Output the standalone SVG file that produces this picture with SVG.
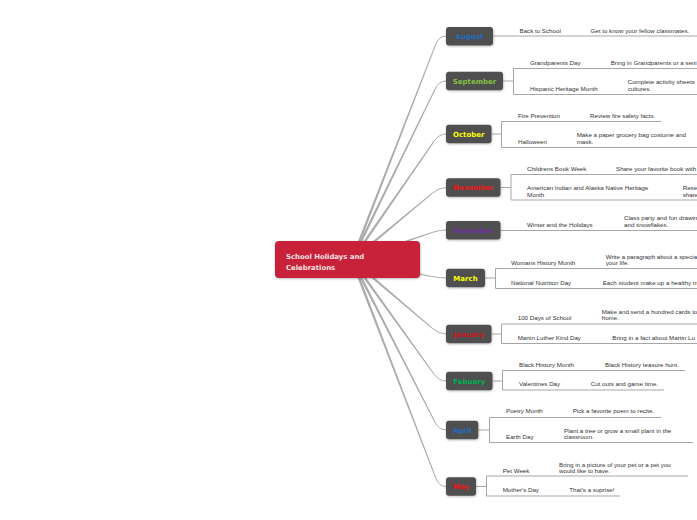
<svg xmlns="http://www.w3.org/2000/svg" width="697" height="520" viewBox="0 0 697 520">
<defs>
<filter id="sh" x="-20%" y="-30%" width="140%" height="170%">
<feDropShadow dx="0.4" dy="0.8" stdDeviation="0.9" flood-color="#000" flood-opacity="0.3"/>
</filter>
<style>
.br{fill:#ababab;stroke:none}
.bc{fill:none;stroke:#ababab;stroke-width:1}
.ln{fill:none;stroke:#a6a6a6;stroke-width:1}
.mn{fill:#4f4f4f;filter:url(#sh)}
.mt{font-family:"DejaVu Sans",Verdana,sans-serif;font-weight:bold;font-size:7px;text-anchor:middle}
.lt{font-family:"Liberation Sans",Arial,sans-serif;font-size:6.2px;fill:#333}
.ct{font-family:"DejaVu Sans",Verdana,sans-serif;font-weight:bold;font-size:6.9px;fill:#f6e2e4}
</style>
</defs>
<rect width="697" height="520" fill="#ffffff"/>
<g id="connectors">
<polygon class="br" points="353.21,260.47 436.21,44.6 435.19,44.2 350.79,259.53"/>
<path class="bc" d="M435.7,44.4 Q439,36 446,36"/>
<polygon class="br" points="353.17,260.57 435.59,89.34 434.61,88.86 350.83,259.43"/>
<path class="bc" d="M435.1,89.1 Q439,81 446,81"/>
<polygon class="br" points="353.07,260.74 434.35,141.71 433.45,141.09 350.93,259.26"/>
<path class="bc" d="M433.9,141.4 Q439,134 446,134"/>
<polygon class="br" points="352.83,261 432.45,193.72 431.75,192.88 351.17,259"/>
<path class="bc" d="M432.1,193.3 Q439,187.5 446,187.5"/>
<polygon class="br" points="352.42,261.23 430.68,233.42 430.32,232.38 351.58,258.77"/>
<path class="bc" d="M430.5,232.9 Q439,230 446,230"/>
<polygon class="br" points="351.74,261.27 430.09,276.74 430.31,275.66 352.26,258.73"/>
<path class="bc" d="M430.2,276.2 Q439,278 446,278"/>
<polygon class="br" points="351.16,260.99 431.74,328.62 432.46,327.78 352.84,259.01"/>
<path class="bc" d="M432.1,328.2 Q439,334 446,334"/>
<polygon class="br" points="350.94,260.76 433.25,374.02 434.15,373.38 353.06,259.24"/>
<path class="bc" d="M433.7,373.7 Q439,381 446,381"/>
<polygon class="br" points="350.84,260.59 434.41,422.25 435.39,421.75 353.16,259.41"/>
<path class="bc" d="M434.9,422 Q439,430 446,430"/>
<polygon class="br" points="350.79,260.47 435.29,478.3 436.31,477.9 353.21,259.53"/>
<path class="bc" d="M435.8,478.1 Q439,486.5 446,486.5"/>
<!-- leaf connectors -->
<path class="ln" d="M493,36 H697"/>
<path class="ln" d="M503,81 H513.5 M513.5,68.5 V94.5 M513.5,68.5 H697 M513.5,94.5 H697"/>
<path class="ln" d="M491.5,134 H501.5 M501.5,121.5 V147.5 M501.5,121.5 H661 M501.5,147.5 H697"/>
<path class="ln" d="M500.5,187.5 H511 M511,174.5 V200 M511,174.5 H697 M511,200 H697"/>
<path class="ln" d="M500.5,230.5 H697"/>
<path class="ln" d="M485,278 H495.5 M495.5,268.5 V288.5 M495.5,268.5 H697 M495.5,288.5 H697"/>
<path class="ln" d="M491.5,334 H501.5 M501.5,324 V343.5 M501.5,324 H697 M501.5,343.5 H697"/>
<path class="ln" d="M492.5,381 H502.5 M502.5,370.5 V390 M502.5,370.5 H685 M502.5,390 H664"/>
<path class="ln" d="M478.3,430 H489.5 M489.5,417.5 V442.5 M489.5,417.5 H661 M489.5,442.5 H693"/>
<path class="ln" d="M476,486.5 H486.5 M486.5,476 V496 M486.5,476 H688 M486.5,496 H620"/>
</g>
<g id="center">
<rect x="275" y="241" width="145" height="37" rx="4" fill="#c8203a" filter="url(#sh)"/>
<text class="ct" x="286" y="259.3">School Holidays and</text>
<text class="ct" x="286" y="270.3">Celebrations</text>
</g>
<g id="august">
<rect class="mn" x="446" y="27" width="47" height="18.5" rx="3"/>
<text class="mt" x="469.5" y="38.8" fill="#1f6dc2">August</text>
<text class="lt" x="519.5" y="33.2">Back to School</text>
<text class="lt" x="590.5" y="33.2">Get to know your fellow classmates.</text>
</g>
<g id="september">
<rect class="mn" x="446" y="71.8" width="57" height="18.5" rx="3"/>
<text class="mt" x="474.5" y="83.6" fill="#84c341">September</text>
<text class="lt" x="530" y="64.9">Grandparents Day</text>
<text class="lt" x="610.7" y="64.9">Bring in Grandparents or a seni</text>
<text class="lt" x="530" y="90.9">Hispanic Heritage Month</text>
<text class="lt" x="627.7" y="83.9">Complete activity sheets</text>
<text class="lt" x="627.7" y="91.1">cultures.</text>
</g>
<g id="october">
<rect class="mn" x="446" y="124.8" width="45.5" height="18.5" rx="3"/>
<text class="mt" x="468.75" y="136.6" fill="#ffff00">October</text>
<text class="lt" x="518" y="118.2">Fire Prevention</text>
<text class="lt" x="590" y="118.2">Review fire safety facts.</text>
<text class="lt" x="518" y="144.2">Halloween</text>
<text class="lt" x="576.7" y="137.2">Make a paper grocery bag costume and</text>
<text class="lt" x="576.7" y="144.2">mask.</text>
</g>
<g id="november">
<rect class="mn" x="446" y="178.3" width="54.5" height="18.5" rx="3"/>
<text class="mt" x="473.25" y="190.1" fill="#f01414">November</text>
<text class="lt" x="527" y="171.2">Childrens Book Week</text>
<text class="lt" x="616" y="171.2">Share your favorite book with</text>
<text class="lt" x="527" y="190.2">American Indian and Alaska Native Heritage</text>
<text class="lt" x="527" y="197.2">Month</text>
<text class="lt" x="682.7" y="190.2">Rese</text>
<text class="lt" x="682.7" y="197.2">share</text>
</g>
<g id="december">
<rect class="mn" x="446" y="221" width="54.5" height="18.5" rx="3"/>
<text class="mt" x="473.25" y="232.8" fill="#7030a0">December</text>
<text class="lt" x="527" y="227.2">Winter and the Holidays</text>
<text class="lt" x="624" y="220.2">Class party and fun drawin</text>
<text class="lt" x="624" y="227.2">and snowflakes.</text>
</g>
<g id="march">
<rect class="mn" x="446" y="268.8" width="39" height="18.5" rx="3"/>
<text class="mt" x="465.5" y="280.6" fill="#ffff00">March</text>
<text class="lt" x="511" y="264.9">Womans History Month</text>
<text class="lt" x="605.7" y="258.9">Write a paragraph about a specia</text>
<text class="lt" x="605.7" y="264.9">your life.</text>
<text class="lt" x="511" y="284.9">National Nutrition Day</text>
<text class="lt" x="602.7" y="284.9">Each student make up a healthy m</text>
</g>
<g id="january">
<rect class="mn" x="446" y="324.8" width="45.5" height="18.5" rx="3"/>
<text class="mt" x="468.75" y="336.6" fill="#d0141c">January</text>
<text class="lt" x="517.7" y="319.9">100 Days of School</text>
<text class="lt" x="601.7" y="313.9">Make and send a hundred cards to</text>
<text class="lt" x="601.7" y="319.9">home.</text>
<text class="lt" x="517.7" y="339.9">Martin Luther Kind Day</text>
<text class="lt" x="612.3" y="339.9">Bring in a fact about Martin Lu</text>
</g>
<g id="febuary">
<rect class="mn" x="446" y="371.8" width="46.5" height="18.5" rx="3"/>
<text class="mt" x="469.25" y="383.6" fill="#00b050">Febuary</text>
<text class="lt" x="519" y="367.2">Black History Month</text>
<text class="lt" x="605" y="367.2">Black History teasure hunt.</text>
<text class="lt" x="519" y="385.9">Valentines Day</text>
<text class="lt" x="590.7" y="385.9">Cut outs and game time.</text>
</g>
<g id="april">
<rect class="mn" x="446" y="420.8" width="32.3" height="18.5" rx="3"/>
<text class="mt" x="462.15" y="432.6" fill="#1f6dc2">April</text>
<text class="lt" x="506" y="413.2">Poetry Month</text>
<text class="lt" x="572.7" y="413.2">Pick a favorite poem to recite.</text>
<text class="lt" x="506" y="439.2">Earth Day</text>
<text class="lt" x="564" y="432.9">Plant a tree or grow a small plant in the</text>
<text class="lt" x="564" y="439.2">classroom.</text>
</g>
<g id="may">
<rect class="mn" x="446" y="477.3" width="30" height="18.5" rx="3"/>
<text class="mt" x="461" y="489.1" fill="#f01414">May</text>
<text class="lt" x="502.7" y="473.2">Pet Week</text>
<text class="lt" x="559" y="466.5">Bring in a picture of your pet or a pet you</text>
<text class="lt" x="559" y="473.2">would like to have.</text>
<text class="lt" x="502.7" y="492.2">Mother's Day</text>
<text class="lt" x="569.3" y="492.2">That's a suprise!</text>
</g>
</svg>
